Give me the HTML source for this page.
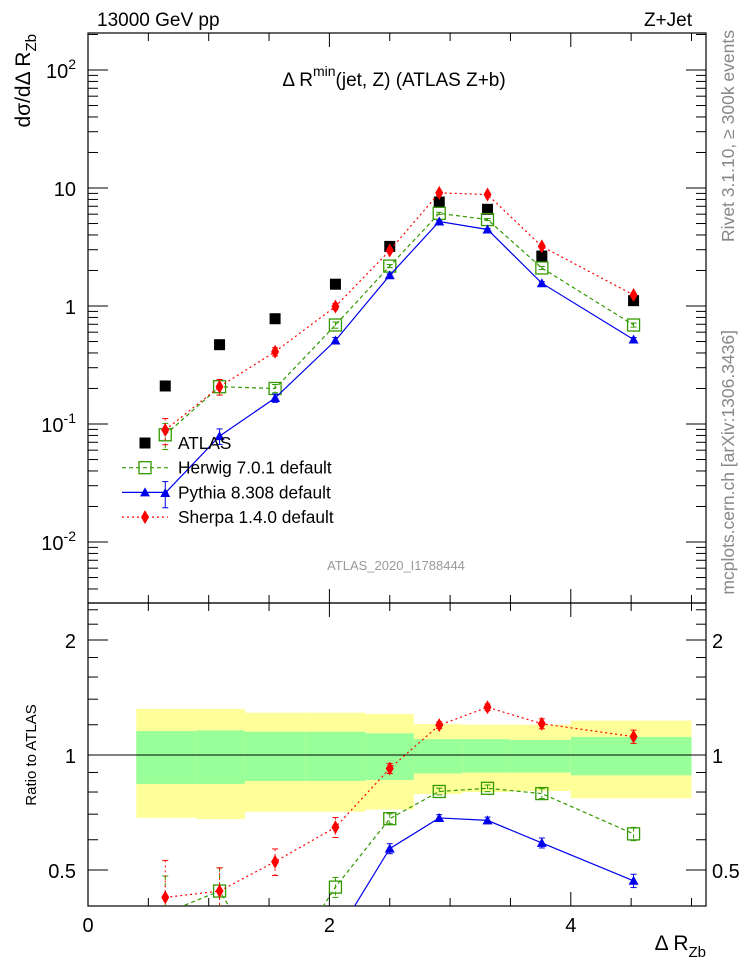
<!DOCTYPE html>
<html><head><meta charset="utf-8"><style>
body{margin:0;background:#fff;overflow:hidden}
svg{font-family:"Liberation Sans",sans-serif;display:block}
</style></head><body>
<svg id="c" width="746" height="972" xmlns="http://www.w3.org/2000/svg"></svg>
<script>
const edges=[0.4,0.9,1.3,1.8,2.3,2.7,3.1,3.5,4.0,5.0];
const centers=[0.64,1.09,1.55,2.05,2.50,2.91,3.31,3.76,4.52];
const atlas=[0.21,0.47,0.78,1.53,3.2,7.6,6.6,2.65,1.11];
const herwig=[0.081,0.207,0.20,0.69,2.18,6.1,5.4,2.1,0.69];
const pythia=[0.026,0.079,0.166,0.51,1.82,5.2,4.45,1.56,0.52];
const sherpa=[0.089,0.207,0.41,0.99,2.95,9.1,8.8,3.2,1.24];
const greenUp=[1.155,1.16,1.15,1.15,1.14,1.10,1.10,1.095,1.115];
const greenDn=[0.84,0.84,0.855,0.855,0.86,0.895,0.90,0.90,0.885];
const yellowUp=[1.32,1.32,1.29,1.29,1.28,1.205,1.2,1.2,1.23];
const yellowDn=[0.685,0.68,0.71,0.71,0.72,0.79,0.80,0.805,0.77];
const mcErr=[0.25,0.15,0.08,0.06,0.03,0.02,0.02,0.03,0.04];
const yTickLabels=["10^2","10","1","10^-1","10^-2"];
const rTicks=[0.5,1,2];

const S=document.getElementById('c'),NS='http://www.w3.org/2000/svg';
function el(t,a,p){const e=document.createElementNS(NS,t);for(const k in a)e.setAttribute(k,a[k]);(p||S).appendChild(e);return e;}
const L=88,R=706,T=33,MB=603,RB=906;
const X=v=>L+v*120.7;
const Y=v=>306-118*Math.log10(v);
const RY=v=>755-382*Math.log10(v);

const defs=el('defs',{});
const c1=el('clipPath',{id:'cm'},defs);el('rect',{x:L,y:T,width:R-L,height:MB-T},c1);
const c2=el('clipPath',{id:'cr'},defs);el('rect',{x:L,y:MB,width:R-L,height:RB-MB},c2);

const gb=el('g',{'clip-path':'url(#cr)'});

for(let i=0;i<centers.length;i++){
 const r=el('rect',{x:X(edges[i]),y:RY(yellowUp[i]),width:X(edges[i+1])-X(edges[i]),height:RY(yellowDn[i])-RY(yellowUp[i]),fill:'#ffff99'},gb);
 
 const g=el('rect',{x:X(edges[i]),y:RY(greenUp[i]),width:X(edges[i+1])-X(edges[i]),height:RY(greenDn[i])-RY(greenUp[i]),fill:'#99ff99'},gb);
 
}
el('line',{x1:L,x2:R,y1:RY(1),y2:RY(1),stroke:'#000','stroke-width':1});

el('rect',{x:L,y:T,width:R-L,height:MB-T,fill:'none',stroke:'#000','stroke-width':1.2});
el('rect',{x:L,y:MB,width:R-L,height:RB-MB,fill:'none',stroke:'#000','stroke-width':1.2});

for(let v=0;v<=5.01;v+=0.5){
 const maj=Math.abs(v%2)<0.01, len=maj?14:8;
 [[T,1],[MB,-1],[MB,1],[RB,-1]].forEach(([y,d])=>el('line',{x1:X(v),x2:X(v),y1:y,y2:y+d*len,stroke:'#000'}));
}
for(let d=-3;d<=2;d++)for(let m=1;m<10;m++){
 const v=m*Math.pow(10,d),y=Y(v); if(y<T||y>MB)continue;
 const len=m==1?20:10;
 el('line',{x1:L,x2:L+len,y1:y,y2:y,stroke:'#000'});el('line',{x1:R,x2:R-len,y1:y,y2:y,stroke:'#000'});
}
yTickLabels.forEach((s,i)=>{
 const y=Y(Math.pow(10,2-i));const t=el('text',{x:76,y:y+8,'font-size':20,'text-anchor':'end'});
 
 const p=s.split('^');t.textContent=p[0];
 if(p[1]){const sp=el('tspan',{dy:-9,'font-size':14},t);sp.textContent=p[1];}
});
const rmin=[0.5,0.6,0.7,0.8,0.9,1,1.2,1.4,1.6,1.8,2,2.2,2.4];
rmin.forEach(v=>{const y=RY(v),len=(v==0.5||v==1||v==2)?20:10;
 el('line',{x1:L,x2:L+len,y1:y,y2:y,stroke:'#000'});el('line',{x1:R,x2:R-len,y1:y,y2:y,stroke:'#000'});});
rTicks.forEach(v=>{
 const a=el('text',{x:76,y:RY(v)+8,'font-size':20,'text-anchor':'end'});a.textContent=v;
 
 const b=el('text',{x:712,y:RY(v)+8,'font-size':20}); b.textContent=v;
 
});
[0,2,4].forEach(v=>{const t=el('text',{x:X(v),y:932,'font-size':20,'text-anchor':'middle'});t.textContent=v;
 });

function marker(g,type,x,y,col){
 if(type=='sq')el('rect',{x:x-5.5,y:y-5.5,width:11,height:11,fill:'#000'},g);
 if(type=='osq')el('rect',{x:x-6,y:y-6,width:12,height:12,fill:'none',stroke:col,'stroke-width':1.3},g);
 if(type=='tri')el('path',{d:`M${x-5},${y+4}L${x+5},${y+4}L${x},${y-5}Z`,fill:col},g);
 if(type=='dia')el('path',{d:`M${x},${y-7}L${x+4},${y}L${x},${y+7}L${x-4},${y}Z`,fill:col},g);
}
const series=[
 {name:'herwig',vals:herwig,col:'#339900',dash:'4,3',m:'osq'},
 {name:'pythia',vals:pythia,col:'#0000ee',dash:'',m:'tri'},
 {name:'sherpa',vals:sherpa,col:'#ff0000',dash:'2,3',m:'dia'}];
const ga=el('g',{'clip-path':'url(#cm)'});

atlas.forEach((v,i)=>marker(ga,'sq',X(centers[i]),Y(v)));
series.forEach(s=>{
 ['main','ratio'].forEach(k=>{
  const g=el('g',{'clip-path':k=='main'?'url(#cm)':'url(#cr)'});
  
  const fy=k=='main'?(i=>Y(s.vals[i])):(i=>RY(s.vals[i]/atlas[i]));
  const pts=s.vals.map((v,i)=>X(centers[i])+','+fy(i)).join(' ');
  el('polyline',{points:pts,fill:'none',stroke:s.col,'stroke-width':1.2,'stroke-dasharray':s.dash},g);
  s.vals.forEach((v,i)=>{
   const x=X(centers[i]),e=mcErr[i];
   const y1=k=='main'?Y(v*(1+e)):RY(v/atlas[i]*(1+e)),y2=k=='main'?Y(v*(1-e)):RY(v/atlas[i]*(1-e));
   el('line',{x1:x,x2:x,y1:y1,y2:y2,stroke:s.col,'stroke-dasharray':s.dash},g);
   el('line',{x1:x-3,x2:x+3,y1:y1,y2:y1,stroke:s.col},g);el('line',{x1:x-3,x2:x+3,y1:y2,y2:y2,stroke:s.col},g);
   marker(g,s.m,x,fy(i),s.col);
  });
 });
});

const lg=el('g',{});
const le=[['ATLAS','sq','#000',''],['Herwig 7.0.1 default','osq','#339900','4,3'],['Pythia 8.308 default','tri','#0000ee',''],['Sherpa 1.4.0 default','dia','#ff0000','2,3']];
le.forEach((e,i)=>{
 const y=443+i*24.7;
 if(i>0)el('line',{x1:122,x2:168,y1:y,y2:y,stroke:e[2],'stroke-width':1.2,'stroke-dasharray':e[3]},lg);
 marker(lg,e[1],145,y,e[2]);
 const t=el('text',{x:178,y:y+6,'font-size':17.3},lg);t.textContent=e[0];
 
});

function txt(x,y,s,a,name){const t=el('text',Object.assign({x:x,y:y},a));t.innerHTML=s;return t;}
txt(97,26,'13000 GeV pp',{'font-size':19},'energy-label');
txt(692,26,'Z+Jet',{'font-size':19,'text-anchor':'end'},'process-label');
txt(394,86,'Δ R<tspan dy="-10" font-size="14">min</tspan><tspan dy="10">(jet, Z) (ATLAS Z+b)</tspan>',{'font-size':19,'text-anchor':'middle'},'plot-title');
txt(396,570,'ATLAS_2020_I1788444',{'font-size':13,'text-anchor':'middle',fill:'#999'},'analysis-id');
txt(0,0,'dσ/dΔ R<tspan dy="6" font-size="15">Zb</tspan>',{'font-size':21,'text-anchor':'end',transform:'translate(30,34) rotate(-90)'},'y-axis-title');
txt(0,0,'Ratio to ATLAS',{'font-size':15,'text-anchor':'middle',transform:'translate(36,755) rotate(-90)'},'ratio-axis-title');
txt(706,950,'Δ R<tspan dy="7" font-size="15">Zb</tspan>',{'font-size':21,'text-anchor':'end'},'x-axis-title');
txt(0,0,'Rivet 3.1.10, ≥ 300k events',{'font-size':17.5,fill:'#888','text-anchor':'end',transform:'translate(734,30) rotate(-90)'},'rivet-label');
txt(0,0,'mcplots.cern.ch [arXiv:1306.3436]',{'font-size':17.5,fill:'#888','text-anchor':'end',transform:'translate(734,330) rotate(-90)'},'mcplots-label');
</script>
</body></html>
